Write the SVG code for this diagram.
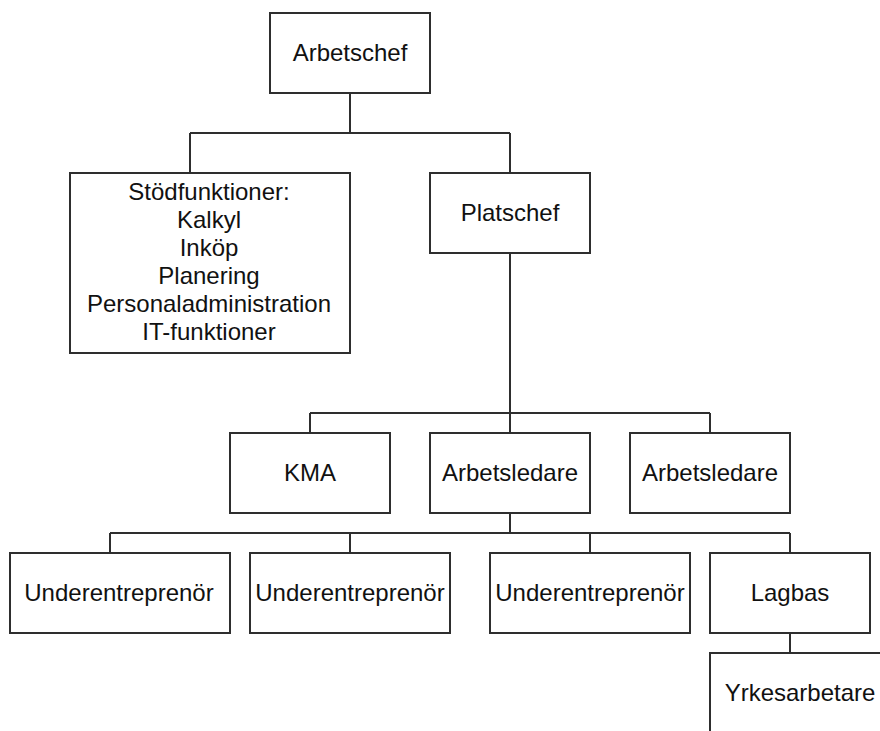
<svg xmlns="http://www.w3.org/2000/svg" width="880" height="731" viewBox="0 0 880 731">
  <style>
    .box { fill: #ffffff; stroke: #2e2e2e; stroke-width: 2; }
    .lbl { font-family: "Liberation Sans", Arial, sans-serif; font-size: 24px; fill: #111111; text-anchor: middle; }
    .edge { fill: none; stroke: #2e2e2e; stroke-width: 2; }
  </style>
  <rect width="880" height="731" fill="#ffffff"/>

  <g id="connectors">
    <path class="edge" d="M350 93 V133 M190 133 H510 M190 133 V173 M510 133 V173"/>
    <path class="edge" d="M510 253 V413 M310 413 H710 M310 413 V433 M510 413 V433 M710 413 V433"/>
    <path class="edge" d="M510 513 V533 M110 533 H790 M110 533 V553 M350 533 V553 M590 533 V553 M790 533 V553"/>
    <path class="edge" d="M790 633 V653"/>
  </g>

  <g id="arbetschef">
    <rect class="box" x="270" y="13" width="160" height="80"/>
    <text class="lbl" x="350" y="61">Arbetschef</text>
  </g>

  <g id="stodfunktioner">
    <rect class="box" x="70" y="173" width="280" height="180"/>
    <text class="lbl" x="209" y="200">Stödfunktioner:</text>
    <text class="lbl" x="209" y="228">Kalkyl</text>
    <text class="lbl" x="209" y="256">Inköp</text>
    <text class="lbl" x="209" y="284">Planering</text>
    <text class="lbl" x="209" y="312">Personaladministration</text>
    <text class="lbl" x="209" y="340">IT-funktioner</text>
  </g>

  <g id="platschef">
    <rect class="box" x="430" y="173" width="160" height="80"/>
    <text class="lbl" x="510" y="221">Platschef</text>
  </g>

  <g id="kma">
    <rect class="box" x="230" y="433" width="160" height="80"/>
    <text class="lbl" x="310" y="481">KMA</text>
  </g>

  <g id="arbetsledare-1">
    <rect class="box" x="430" y="433" width="160" height="80"/>
    <text class="lbl" x="510" y="481">Arbetsledare</text>
  </g>

  <g id="arbetsledare-2">
    <rect class="box" x="630" y="433" width="160" height="80"/>
    <text class="lbl" x="710" y="481">Arbetsledare</text>
  </g>

  <g id="underentreprenor-1">
    <rect class="box" x="10" y="553" width="220" height="80"/>
    <text class="lbl" x="119" y="601">Underentreprenör</text>
  </g>

  <g id="underentreprenor-2">
    <rect class="box" x="250" y="553" width="200" height="80"/>
    <text class="lbl" x="350" y="601">Underentreprenör</text>
  </g>

  <g id="underentreprenor-3">
    <rect class="box" x="490" y="553" width="200" height="80"/>
    <text class="lbl" x="590" y="601">Underentreprenör</text>
  </g>

  <g id="lagbas">
    <rect class="box" x="710" y="553" width="160" height="80"/>
    <text class="lbl" x="790" y="601">Lagbas</text>
  </g>

  <g id="yrkesarbetare">
    <rect class="box" x="710" y="653" width="180" height="90"/>
    <text class="lbl" x="800" y="701">Yrkesarbetare</text>
  </g>
</svg>
